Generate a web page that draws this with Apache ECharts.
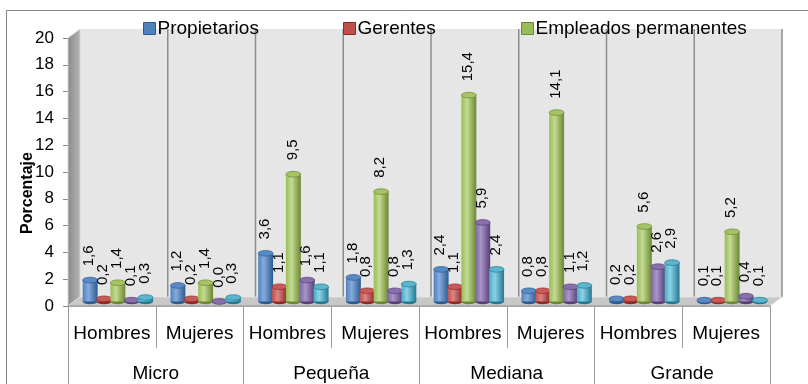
<!DOCTYPE html>
<html>
<head>
<meta charset="utf-8">
<script src="https://cdn.jsdelivr.net/npm/echarts@6/dist/echarts.min.js"></script>
<style>
  html, body { margin: 0; padding: 0; background: #ffffff; }
  #chart { width: 808px; height: 384px; }
</style>
</head>
<body>
<div id="chart"></div>
<script>
// Categories: sex within firm size
const subCategories = ['Hombres', 'Mujeres', 'Hombres', 'Mujeres', 'Hombres', 'Mujeres', 'Hombres', 'Mujeres'];
const sizeGroups = ['Micro', 'Pequeña', 'Mediana', 'Grande'];

// Percentages per series, one value per sub-category
const propietarios = [1.6, 1.2, 3.6, 1.8, 2.4, 0.8, 0.2, 0.1];
const gerentes = [0.2, 0.2, 1.1, 0.8, 1.1, 0.8, 0.2, 0.1];
const empleadosPermanentes = [1.4, 1.4, 9.5, 8.2, 15.4, 14.1, 5.6, 5.2];
const empleadosTemporales = [0.1, 0.0, 1.6, 0.8, 5.9, 1.1, 2.6, 0.4];
const otrosTrabajadores = [0.3, 0.3, 1.1, 1.3, 2.4, 1.2, 2.9, 0.1];

// Value axis
const yMin = 0;
const yMax = 20;
const yStep = 2;

const legendNames = ['Propietarios', 'Gerentes', 'Empleados permanentes'];

const FONT = 'Liberation Sans, Arial, sans-serif';
// Depth of the 3D box (back wall offset from the front plane)
const DEPTH_X = 12;
const DEPTH_Y = -9;

const seriesDefs = [
  { name: 'Propietarios', values: propietarios, dark: '#2c5a8f', mid: '#4f81bd', light: '#86abdc', top: '#5a8ac6' },
  { name: 'Gerentes', values: gerentes, dark: '#8c2a27', mid: '#c0504d', light: '#dc8583', top: '#c95a57' },
  { name: 'Empleados permanentes', values: empleadosPermanentes, dark: '#6b8731', mid: '#9bbb59', light: '#c3db93', top: '#a6c466' },
  { name: 'Empleados temporales', values: empleadosTemporales, dark: '#563f77', mid: '#8064a2', light: '#aa95c8', top: '#8a6fad' },
  { name: 'Otros trabajadores', values: otrosTrabajadores, dark: '#237891', mid: '#4bacc6', light: '#8ad2e6', top: '#5bb6ce' }
];

function fmt(v) {
  return v.toFixed(1).replace('.', ',');
}

// Back wall, left wall and floor of the 3D box, derived from the grid rectangle
function renderBox(params, api) {
  const cs = params.coordSys;
  const x0 = cs.x, y0 = cs.y, x1 = cs.x + cs.width, y1 = cs.y + cs.height;
  const n = subCategories.length;
  const children = [];
  children.push({
    type: 'rect',
    shape: { x: x0 + DEPTH_X, y: y0 + DEPTH_Y, width: cs.width, height: cs.height },
    style: { fill: '#e6e6e6' }
  });
  for (let k = 1; k <= n; k++) {
    const lx = x0 + DEPTH_X + cs.width * k / n;
    children.push({
      type: 'line',
      shape: { x1: lx, y1: y0 + DEPTH_Y, x2: lx, y2: y1 + DEPTH_Y },
      style: { stroke: '#8c8c8c', lineWidth: 1.5 }
    });
  }
  children.push({
    type: 'polygon',
    shape: { points: [[x0, y0], [x0 + DEPTH_X, y0 + DEPTH_Y], [x0 + DEPTH_X, y1 + DEPTH_Y], [x0, y1]] },
    style: {
      fill: new echarts.graphic.LinearGradient(0, 0, 1, 0, [
        { offset: 0, color: '#8a8a8a' }, { offset: 1, color: '#b4b4b4' }
      ]),
      stroke: '#d8d8d8', lineWidth: 0.8
    }
  });
  children.push({
    type: 'polygon',
    shape: { points: [[x0, y1], [x1, y1], [x1 + DEPTH_X, y1 + DEPTH_Y], [x0 + DEPTH_X, y1 + DEPTH_Y]] },
    style: { fill: '#c8c8c8', stroke: '#e4e4e4', lineWidth: 0.8 }
  });
  children.push({
    type: 'rect',
    shape: { x: x0, y: y1 - 1, width: cs.width, height: 2 },
    style: { fill: '#a9a9a9' }
  });
  return { type: 'group', children: children };
}

// One 3D cylinder per data point, with its rotated value label
function cylinderRenderer(idx) {
  const def = seriesDefs[idx];
  return function (params, api) {
    const cat = api.value(0);
    const val = api.value(1);
    const base = api.coord([cat, 0]);
    const top = api.coord([cat, val]);
    const slot = api.size([1, 0])[0];
    const pitch = slot * 0.158;
    const w = slot * 0.17;
    const r = w / 2;
    const ry = w * 0.19;
    const cx = base[0] + (idx - 2) * pitch + DEPTH_X / 2;
    const yb = base[1] + DEPTH_Y / 2;
    const yt = top[1] + DEPTH_Y / 2;
    const body = new echarts.graphic.LinearGradient(0, 0, 1, 0, [
      { offset: 0, color: def.mid },
      { offset: 0.38, color: def.light },
      { offset: 1, color: def.dark }
    ]);
    return {
      type: 'group',
      children: [
        {
          type: 'circle', x: cx, y: yb, scaleY: ry / r,
          shape: { cx: 0, cy: 0, r: r },
          style: { fill: def.dark }
        },
        {
          type: 'rect',
          shape: { x: cx - r, y: yt, width: w, height: Math.max(0, yb - yt) },
          style: { fill: body }
        },
        {
          type: 'circle', x: cx, y: yt, scaleY: ry / r,
          shape: { cx: 0, cy: 0, r: r },
          style: { fill: def.top, stroke: def.dark, lineWidth: 1, strokeNoScale: true }
        },
        {
          type: 'text', x: cx - 1, y: yt - ry - 11, rotation: Math.PI / 2, z2: 100,
          style: {
            text: fmt(val), fill: '#000000', font: '15px ' + FONT,
            align: 'left', verticalAlign: 'middle'
          }
        }
      ]
    };
  };
}

const chart = echarts.init(document.getElementById('chart'), null, { renderer: 'canvas' });

const series = [{
  type: 'custom',
  silent: true,
  z: 1,
  xAxisIndex: 0,
  yAxisIndex: 0,
  renderItem: renderBox,
  data: [[0, 0]]
}];

seriesDefs.forEach(function (def, idx) {
  series.push({
    type: 'custom',
    name: def.name,
    z: 2,
    xAxisIndex: 0,
    yAxisIndex: 0,
    itemStyle: { color: def.mid },
    renderItem: cylinderRenderer(idx),
    data: def.values.map(function (v, i) { return [i, v]; })
  });
});

const legendLeft = [143, 343, 521];

const option = {
  animation: false,
  backgroundColor: '#ffffff',
  textStyle: { fontFamily: FONT },
  grid: { left: 68, right: 38, top: 38, bottom: 78, containLabel: false },
  legend: legendNames.map(function (name, i) {
    return {
      data: [name],
      left: legendLeft[i],
      top: 19,
      padding: 0,
      itemWidth: 12,
      itemHeight: 12,
      itemGap: 0,
      icon: 'rect',
      itemStyle: { borderColor: seriesDefs[i].dark, borderWidth: 1 },
      textStyle: { fontSize: 19, color: '#000000', fontFamily: FONT, padding: [2, 0, 0, -3] }
    };
  }),
  xAxis: [
    {
      type: 'category',
      data: subCategories,
      position: 'bottom',
      boundaryGap: true,
      axisLine: { show: true, lineStyle: { color: '#9a9a9a', width: 1 } },
      axisTick: { show: true, interval: 0, length: 42, lineStyle: { color: '#9a9a9a' } },
      axisLabel: { interval: 0, margin: 18, fontSize: 19, color: '#000000', fontFamily: FONT },
      splitLine: { show: false }
    },
    {
      type: 'category',
      data: sizeGroups,
      position: 'bottom',
      boundaryGap: true,
      axisLine: { show: false },
      axisTick: { show: true, interval: 0, length: 80, lineStyle: { color: '#9a9a9a' } },
      axisLabel: { interval: 0, margin: 58, fontSize: 19, color: '#000000', fontFamily: FONT },
      splitLine: { show: false }
    }
  ],
  yAxis: {
    type: 'value',
    min: yMin,
    max: yMax,
    interval: yStep,
    axisLine: { show: true, lineStyle: { color: '#868686' } },
    axisTick: { show: true, length: 5, lineStyle: { color: '#868686' } },
    axisLabel: { margin: 14, fontSize: 17, color: '#000000', fontFamily: FONT },
    splitLine: { show: false }
  },
  graphic: [
    {
      type: 'rect',
      x: 6.5, y: 10.5,
      shape: { width: 900, height: 500 },
      style: { fill: 'none', stroke: '#868686', lineWidth: 1 },
      silent: true,
      z: -1
    },
    {
      type: 'text',
      x: 28, y: 193,
      rotation: Math.PI / 2,
      style: {
        text: 'Porcentaje',
        font: 'bold 16px ' + FONT,
        fill: '#000000',
        align: 'center',
        verticalAlign: 'middle'
      }
    }
  ],
  series: series
};

chart.setOption(option);
</script>
</body>
</html>
